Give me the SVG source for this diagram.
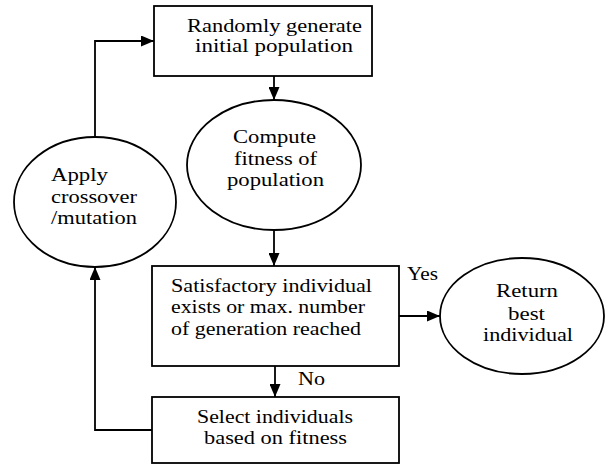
<svg xmlns="http://www.w3.org/2000/svg" width="605" height="465" viewBox="0 0 605 465" font-family="Liberation Serif, DejaVu Serif, Times New Roman, Times, serif">
<style>
.s{fill:#fff;stroke:#000;stroke-width:1.8}
.t{font-family:"Liberation Serif","DejaVu Serif","Times New Roman",Times,serif;font-size:18px;fill:#000}
.c{fill:none;stroke:#000;stroke-width:1.8}
</style>
<defs>
<marker id="a" markerWidth="13" markerHeight="11" refX="13" refY="5.5" orient="auto" markerUnits="userSpaceOnUse">
<path d="M0,0 L13,5.5 L0,11 Z" fill="#000"/>
</marker>
</defs>
<rect width="605" height="465" fill="#fff"/>
<g id="connectors">
<path class="c" d="M274,76 V100" marker-end="url(#a)"/>
<path class="c" d="M274,230 V266" marker-end="url(#a)"/>
<path class="c" d="M275,366 V397" marker-end="url(#a)"/>
<path class="c" d="M399,316 H440" marker-end="url(#a)"/>
<path class="c" d="M152,430 H95 V267" marker-end="url(#a)"/>
<path class="c" d="M95,137 V41 H154" marker-end="url(#a)"/>
<text class="t" font-family="Liberation Serif" x="407" y="280" textLength="31" lengthAdjust="spacingAndGlyphs">Yes</text>
<text class="t" font-family="Liberation Serif" x="298" y="385" textLength="27" lengthAdjust="spacingAndGlyphs">No</text>
</g>
<g id="init">
<rect class="s" x="154" y="6" width="218" height="70"/>
<text class="t" x="187" y="32" textLength="175" lengthAdjust="spacingAndGlyphs">Randomly generate</text>
<text class="t" x="195" y="52" textLength="158" lengthAdjust="spacingAndGlyphs">initial population</text>
</g>
<g id="fitness">
<ellipse class="s" cx="274" cy="165" rx="87" ry="65"/>
<text class="t" x="233" y="143" textLength="83" lengthAdjust="spacingAndGlyphs">Compute</text>
<text class="t" x="234" y="165" textLength="83" lengthAdjust="spacingAndGlyphs">fitness of</text>
<text class="t" x="227" y="186" textLength="97" lengthAdjust="spacingAndGlyphs">population</text>
</g>
<g id="crossover">
<ellipse class="s" cx="95" cy="202" rx="81" ry="65"/>
<text class="t" x="51" y="181" textLength="57" lengthAdjust="spacingAndGlyphs">Apply</text>
<text class="t" x="51" y="203" textLength="86" lengthAdjust="spacingAndGlyphs">crossover</text>
<text class="t" x="51" y="224" textLength="86" lengthAdjust="spacingAndGlyphs">/mutation</text>
</g>
<g id="check">
<rect class="s" x="152" y="266" width="247" height="100"/>
<text class="t" x="171" y="292" textLength="201" lengthAdjust="spacingAndGlyphs">Satisfactory individual</text>
<text class="t" x="171" y="313" textLength="194" lengthAdjust="spacingAndGlyphs">exists or max. number</text>
<text class="t" x="171" y="335" textLength="190" lengthAdjust="spacingAndGlyphs">of generation reached</text>
</g>
<g id="select">
<rect class="s" x="152" y="397" width="247" height="66"/>
<text class="t" x="197" y="423" textLength="156" lengthAdjust="spacingAndGlyphs">Select individuals</text>
<text class="t" x="204" y="444" textLength="143" lengthAdjust="spacingAndGlyphs">based on fitness</text>
</g>
<g id="best">
<ellipse class="s" cx="522" cy="316" rx="82" ry="58"/>
<text class="t" x="496" y="297" textLength="62" lengthAdjust="spacingAndGlyphs">Return</text>
<text class="t" x="508" y="320" textLength="37" lengthAdjust="spacingAndGlyphs">best</text>
<text class="t" x="483" y="341" textLength="90" lengthAdjust="spacingAndGlyphs">individual</text>
</g>
</svg>
